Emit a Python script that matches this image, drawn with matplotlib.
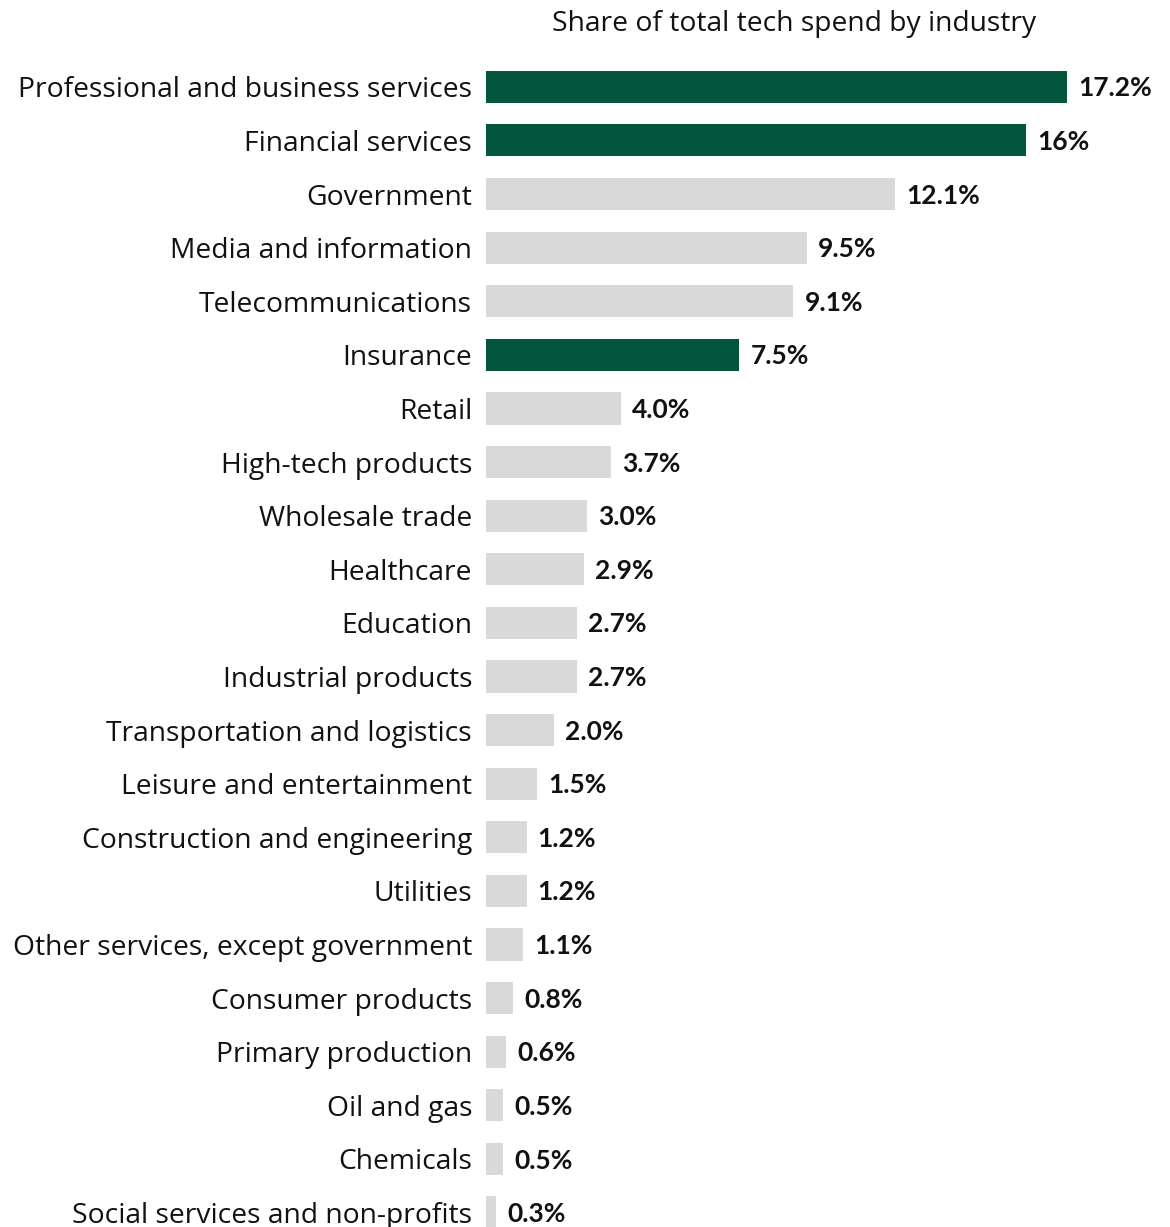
import matplotlib
matplotlib.use("Agg")
import matplotlib.pyplot as plt

# Share of total tech spend by industry (%)
industries = [
    "Professional and business services", "Financial services", "Government",
    "Media and information", "Telecommunications", "Insurance", "Retail",
    "High-tech products", "Wholesale trade", "Healthcare", "Education",
    "Industrial products", "Transportation and logistics",
    "Leisure and entertainment", "Construction and engineering", "Utilities",
    "Other services, except government", "Consumer products",
    "Primary production", "Oil and gas", "Chemicals",
    "Social services and non-profits",
]
shares = [17.2, 16.0, 12.1, 9.5, 9.1, 7.5, 4.0, 3.7, 3.0, 2.9, 2.7, 2.7,
          2.0, 1.5, 1.2, 1.2, 1.1, 0.8, 0.6, 0.5, 0.5, 0.3]
value_labels = ["17.2%", "16%", "12.1%", "9.5%", "9.1%", "7.5%", "4.0%",
                "3.7%", "3.0%", "2.9%", "2.7%", "2.7%", "2.0%", "1.5%",
                "1.2%", "1.2%", "1.1%", "0.8%", "0.6%", "0.5%", "0.5%", "0.3%"]
highlighted = ["Professional and business services", "Financial services", "Insurance"]

GREEN = "#04553e"
GRAY = "#d9d9d9"

plt.rcParams["font.family"] = ["Open Sans", "DejaVu Sans"]

fig = plt.figure(figsize=(11.7, 12.27), dpi=100)
ax = fig.add_axes([486 / 1170, 0, 1 - 486 / 1170, 1 - 60 / 1227])

colors = [GREEN if name in highlighted else GRAY for name in industries]
ypos = list(range(len(industries)))
ax.barh(ypos, shares, height=0.6, color=colors, edgecolor="none")

# bold value at the end of each bar
for y, v, lab in zip(ypos, shares, value_labels):
    ax.text(v + 0.33, y + 0.03, lab, va="center", ha="left", fontsize=19,
            fontweight="bold", color="#111111", family=["Lato", "DejaVu Sans"])

ax.set_yticks(ypos)
ax.set_yticklabels(industries, fontsize=20.3, color="#111111")
ax.tick_params(axis="y", length=0, pad=10)
ax.set_xticks([])
ax.set_xlim(0, 684 / 33.78)
ax.set_ylim(21.27, -0.5)
for spine in ax.spines.values():
    spine.set_visible(False)

fig.text(794 / 1170, 1 - 24 / 1227, "Share of total tech spend by industry",
         ha="center", va="center", fontsize=20.3, color="#111111")

fig.savefig("out.png", dpi=100, facecolor="white")
